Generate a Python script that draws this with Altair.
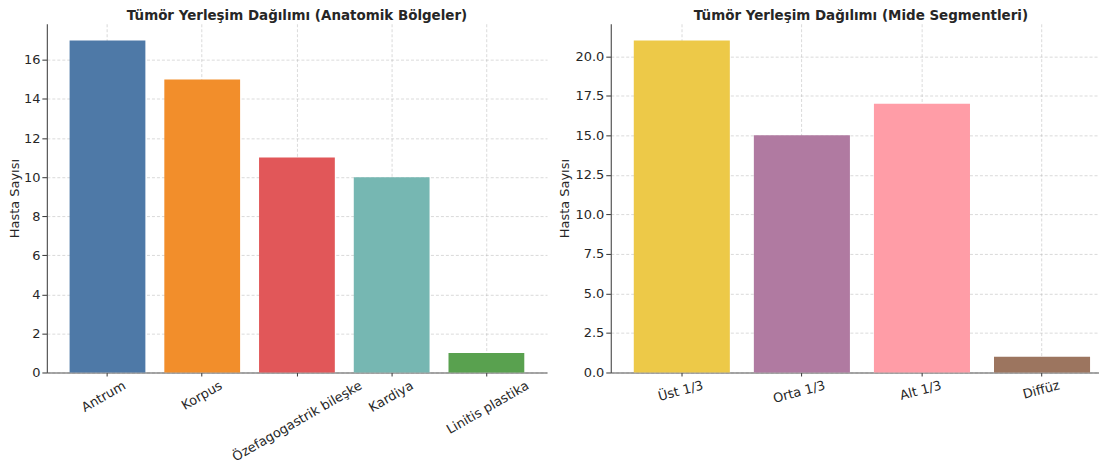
import altair as alt
import pandas as pd

# Panel 1: anatomic regions
regions = ["Antrum", "Korpus", "Özefagogastrik bileşke", "Kardiya", "Linitis plastika"]
region_counts = [17, 15, 11, 10, 1]
region_colors = ["#4e79a7", "#f28e2b", "#e15759", "#76b7b2", "#59a14f"]
left_ticks = [0, 2, 4, 6, 8, 10, 12, 14, 16]

# Panel 2: stomach segments
segments = ["Üst 1/3", "Orta 1/3", "Alt 1/3", "Diffüz"]
segment_counts = [21, 15, 17, 1]
segment_colors = ["#edc948", "#b07aa1", "#ff9da7", "#9c755f"]
right_ticks = [0, 2.5, 5, 7.5, 10, 12.5, 15, 17.5, 20]

title_left = "Tümör Yerleşim Dağılımı (Anatomik Bölgeler)"
title_right = "Tümör Yerleşim Dağılımı (Mide Segmentleri)"
y_title = "Hasta Sayısı"

df_left = pd.DataFrame({"cat": regions, "n": region_counts})
df_right = pd.DataFrame({"cat": segments, "n": segment_counts})

FONT = "DejaVu Sans"
FS = 13

# approximate rendered label width (DejaVu Sans), used to centre rotated labels
WIDTH_EXPR = (f"{FS}*(0.62*length(datum.label) - "
              f"0.31*length(replace(datum.label, regexp('[^iljtfrı /]', 'g'), '')))")


def panel(df, cats, colors, ticks, ymax, title, width, pad_outer, align,
          angle, cos_half, sin_half, tick_fmt, title_pad, title_dx):
    return (
        alt.Chart(df)
        .mark_bar()
        .encode(
            x=alt.X(
                "cat:N",
                sort=cats,
                scale=alt.Scale(paddingInner=0.2, paddingOuter=pad_outer, align=align),
                axis=alt.Axis(
                    title=None,
                    grid=True,
                    bandPosition=0.5,
                    labelAngle=angle,
                    labelAlign="right",
                    labelBaseline="top",
                    labelOverlap=False,
                    labelPadding=3,
                    tickSize=3.5,
                    labelOffset={
                        "condition": {"test": "false", "value": 0},
                        "expr": f"({WIDTH_EXPR})*{cos_half} - {FS*sin_half}",
                    },
                ),
            ),
            y=alt.Y(
                "n:Q",
                scale=alt.Scale(domain=[0, ymax], nice=False, zero=True),
                axis=alt.Axis(
                    values=ticks,
                    title=y_title,
                    format=tick_fmt,
                    titlePadding=title_pad,
                    tickSize=5,
                    labelPadding=2,
                ),
            ),
            color=alt.Color(
                "cat:N",
                scale=alt.Scale(domain=cats, range=colors),
                legend=None,
            ),
        )
        .properties(
            width=width,
            height=350,
            title=alt.TitleParams(
                title,
                font=FONT,
                fontSize=13.5,
                fontWeight="bold",
                color="#262626",
                anchor="middle",
                frame="group",
                offset=1,
                dx=title_dx,
            ),
        )
    )


left = panel(df_left, regions, region_colors, left_ticks, 17.85, title_left,
             502, 0.24, 0.5, -30, 0.433, 0.25, "d", 2, 0)
right = panel(df_right, segments, segment_colors, right_ticks, 22.05, title_right,
              490, 0.133, 0.72, -15, 0.483, 0.129, ".1f", 3.5, 6)

chart = (
    alt.hconcat(left, right, spacing=11)
    .resolve_scale(color="independent")
    .properties(padding={"left": 0, "top": 0, "right": 0, "bottom": 0})
    .configure_view(stroke=None)
    .configure_axis(
        labelFont=FONT,
        titleFont=FONT,
        labelFontSize=FS,
        titleFontSize=FS,
        titleFontWeight="normal",
        labelColor="#262626",
        titleColor="#262626",
        domainColor="#555555",
        domainWidth=1.2,
        tickColor="#333333",
        gridColor="#b0b0b0",
        gridDash=[3, 2],
        gridOpacity=0.6,
        gridWidth=0.8,
        zindex=1,
    )
)

chart.save("out.html", embed_options={"renderer": "svg", "actions": False})
